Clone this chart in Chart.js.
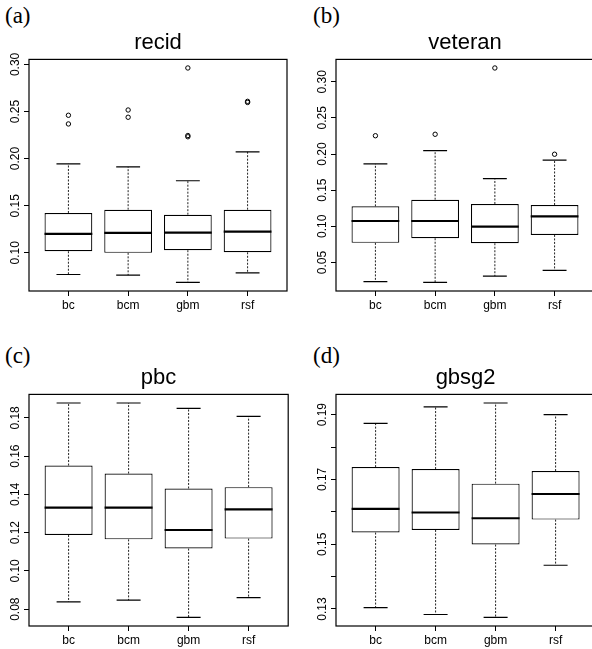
<!DOCTYPE html>
<html>
<head>
<meta charset="utf-8">
<script src="https://cdn.jsdelivr.net/npm/chart.js@4.4.1/dist/chart.umd.min.js"></script>
<style>
  body { margin: 0; width: 592px; height: 649px; overflow: hidden; background: #fff; position: relative; }
  .panel { position: absolute; width: 292px; height: 320px; }
  .tag { position: absolute; font-family: 'Liberation Serif', serif; font-size: 23px; line-height: 1; color: #000; }
</style>
</head>
<body>
<div class="tag" style="left:5px; top:4px">(a)</div>
<div class="tag" style="left:313px; top:4px">(b)</div>
<div class="tag" style="left:5px; top:344px">(c)</div>
<div class="tag" style="left:313px; top:344px">(d)</div>

<div class="panel" style="left:0px; top:0px"><canvas id="recidChart"></canvas></div>
<div class="panel" style="left:307px; top:0px"><canvas id="veteranChart"></canvas></div>
<div class="panel" style="left:0px; top:335px"><canvas id="pbcChart"></canvas></div>
<div class="panel" style="left:307px; top:335px"><canvas id="gbsg2Chart"></canvas></div>

<script>
const methods = ['bc', 'bcm', 'gbm', 'rsf'];

// recid
const recidLow = [0.0770, 0.0763, 0.0686, 0.0788];
const recidQ1 = [0.1017, 0.1000, 0.1028, 0.1006];
const recidMed = [0.1201, 0.1212, 0.1215, 0.1225];
const recidQ3 = [0.1423, 0.1458, 0.1405, 0.1458];
const recidHigh = [0.1945, 0.1913, 0.1765, 0.2072];
const recidOut = [[0.2460, 0.2368], [0.2516, 0.2439], [0.2962, 0.2245, 0.2232], [0.2608, 0.2596]];
const recidTicks = [0.10, 0.15, 0.20, 0.25, 0.30];
const recidTickLabels = ['0.10', '0.15', '0.20', '0.25', '0.30'];

// veteran
const veteranLow = [0.0234, 0.0224, 0.0311, 0.0390];
const veteranQ1 = [0.0771, 0.0835, 0.0766, 0.0881];
const veteranMed = [0.1074, 0.1074, 0.0996, 0.1138];
const veteranQ3 = [0.1276, 0.1368, 0.1309, 0.1295];
const veteranHigh = [0.1864, 0.2048, 0.1659, 0.1916];
const veteranOut = [[0.2253], [0.2273], [0.3190], [0.1997]];
const veteranTicks = [0.05, 0.10, 0.15, 0.20, 0.25, 0.30];
const veteranTickLabels = ['0.05', '0.10', '0.15', '0.20', '0.25', '0.30'];

// pbc
const pbcLow = [0.0838, 0.0847, 0.0757, 0.0861];
const pbcQ1 = [0.1188, 0.1165, 0.1117, 0.1169];
const pbcMed = [0.1331, 0.1331, 0.1214, 0.1322];
const pbcQ3 = [0.1551, 0.1509, 0.1431, 0.1438];
const pbcHigh = [0.1878, 0.1878, 0.1850, 0.1808];
const pbcOut = [[], [], [], []];
const pbcTicks = [0.08, 0.10, 0.12, 0.14, 0.16, 0.18];
const pbcTickLabels = ['0.08', '0.10', '0.12', '0.14', '0.16', '0.18'];

// gbsg2
const gbsg2Low = [0.1304, 0.1283, 0.1274, 0.1435];
const gbsg2Q1 = [0.1536, 0.1544, 0.1499, 0.1576];
const gbsg2Med = [0.1609, 0.1598, 0.1580, 0.1655];
const gbsg2Q3 = [0.1738, 0.1732, 0.1687, 0.1726];
const gbsg2High = [0.1873, 0.1924, 0.1936, 0.1900];
const gbsg2Out = [[], [], [], []];
const gbsg2Ticks = [0.13, 0.14, 0.15, 0.16, 0.17, 0.18, 0.19];
const gbsg2TickLabels = ['0.13', '', '0.15', '', '0.17', '', '0.19'];

const fontFam = "'Liberation Sans', Arial, sans-serif";

// dibuja un boxplot estilo R en el canvas indicado
const makeBoxplot = (id, title, low, q1, med, q3, high, out, ticks, tickLabels) => {
    // rango del eje: datos +- 4% como hace R
    const all = low.concat(high, ...out);
    const lo = Math.min(...all), hi = Math.max(...all);
    const pad = (hi - lo) * 0.04;

    const boxes = methods.map((m, i) => ({ x: i + 1, y: [q1[i], q3[i]] }));
    const points = [];
    out.forEach((vals, i) => vals.forEach(v => points.push({ x: i + 1, y: v })));

    const extras = {
        id: 'boxExtras',
        afterDatasetsDraw(chart) {
            const { ctx, scales: { x, y } } = chart;
            ctx.save();
            methods.forEach((m, i) => {
                const c = x.getPixelForValue(i + 1);
                // bigotes punteados
                ctx.lineWidth = 1;
                ctx.setLineDash([2, 1.5]);
                ctx.strokeStyle = '#222';
                ctx.beginPath();
                ctx.moveTo(c, y.getPixelForValue(q3[i]));
                ctx.lineTo(c, y.getPixelForValue(high[i]));
                ctx.moveTo(c, y.getPixelForValue(q1[i]));
                ctx.lineTo(c, y.getPixelForValue(low[i]));
                ctx.stroke();
                ctx.setLineDash([]);
                ctx.strokeStyle = '#000';
                // topes
                const l = x.getPixelForValue(i + 0.8), r = x.getPixelForValue(i + 1.2);
                ctx.lineWidth = 1.2;
                ctx.beginPath();
                ctx.moveTo(l, y.getPixelForValue(high[i]));
                ctx.lineTo(r, y.getPixelForValue(high[i]));
                ctx.moveTo(l, y.getPixelForValue(low[i]));
                ctx.lineTo(r, y.getPixelForValue(low[i]));
                ctx.stroke();
                // mediana
                ctx.lineWidth = 2.1;
                ctx.beginPath();
                ctx.moveTo(x.getPixelForValue(i + 0.6), y.getPixelForValue(med[i]));
                ctx.lineTo(x.getPixelForValue(i + 1.4), y.getPixelForValue(med[i]));
                ctx.stroke();
            });
            ctx.restore();
        },
        afterDraw(chart) {
            const { ctx, chartArea: a, scales: { y } } = chart;
            ctx.save();
            ctx.strokeStyle = '#000';
            ctx.lineWidth = 1.2;
            ctx.strokeRect(a.left, a.top, a.right - a.left, a.bottom - a.top);
            // etiquetas del eje y giradas
            ctx.fillStyle = '#000';
            ctx.font = '12px ' + fontFam;
            ctx.textAlign = 'center';
            ctx.textBaseline = 'middle';
            ticks.forEach((v, i) => {
                if (!tickLabels[i]) return;
                ctx.save();
                ctx.translate(a.left - 13.5, y.getPixelForValue(v));
                ctx.rotate(-Math.PI / 2);
                ctx.fillText(tickLabels[i], 0, 0);
                ctx.restore();
            });
            ctx.restore();
        }
    };

    const ctx = document.getElementById(id).getContext('2d');
    return new Chart(ctx, {
        type: 'bar',
        data: {
            datasets: [{
                type: 'scatter',
                data: points,
                pointRadius: 2.2,
                pointBorderWidth: 1,
                pointBorderColor: '#000',
                pointBackgroundColor: 'rgba(0,0,0,0)'
            }, {
                data: boxes,
                backgroundColor: '#fff',
                borderColor: '#000',
                borderWidth: 1.2,
                borderSkipped: false,
                barPercentage: 0.8,
                categoryPercentage: 1.0
            }]
        },
        options: {
            responsive: true,
            maintainAspectRatio: false,
            animation: false,
            layout: { padding: { right: 3.8 } },
            plugins: {
                legend: { display: false },
                tooltip: { enabled: false },
                title: {
                    display: true,
                    text: title,
                    fullSize: false,
                    color: '#000',
                    font: { family: fontFam, size: 22, weight: 'normal', lineHeight: 1.2 },
                    padding: { top: 30, bottom: 3 }
                }
            },
            scales: {
                x: {
                    type: 'linear',
                    min: 0.34,
                    max: 4.66,
                    offset: false,
                    afterBuildTicks: s => { s.ticks = methods.map((m, i) => ({ value: i + 1 })); },
                    afterFit: s => { s.height = 29; },
                    border: { display: false },
                    grid: { offset: false, drawOnChartArea: false, drawTicks: true, tickLength: 5, color: '#000', lineWidth: 1 },
                    ticks: {
                        autoSkip: false,
                        maxRotation: 0,
                        padding: 2,
                        color: '#000',
                        font: { family: fontFam, size: 12 },
                        callback: (v, i) => methods[i]
                    }
                },
                y: {
                    type: 'linear',
                    min: lo - pad,
                    max: hi + pad,
                    afterBuildTicks: s => { s.ticks = ticks.map(v => ({ value: v })); },
                    afterFit: s => { s.width = 29; },
                    border: { display: false },
                    grid: { drawOnChartArea: false, drawTicks: true, tickLength: 5, color: '#000', lineWidth: 1 },
                    ticks: { display: false }
                }
            }
        },
        plugins: [extras]
    });
};

makeBoxplot('recidChart', 'recid', recidLow, recidQ1, recidMed, recidQ3, recidHigh, recidOut, recidTicks, recidTickLabels);
makeBoxplot('veteranChart', 'veteran', veteranLow, veteranQ1, veteranMed, veteranQ3, veteranHigh, veteranOut, veteranTicks, veteranTickLabels);
makeBoxplot('pbcChart', 'pbc', pbcLow, pbcQ1, pbcMed, pbcQ3, pbcHigh, pbcOut, pbcTicks, pbcTickLabels);
makeBoxplot('gbsg2Chart', 'gbsg2', gbsg2Low, gbsg2Q1, gbsg2Med, gbsg2Q3, gbsg2High, gbsg2Out, gbsg2Ticks, gbsg2TickLabels);
</script>
</body>
</html>
